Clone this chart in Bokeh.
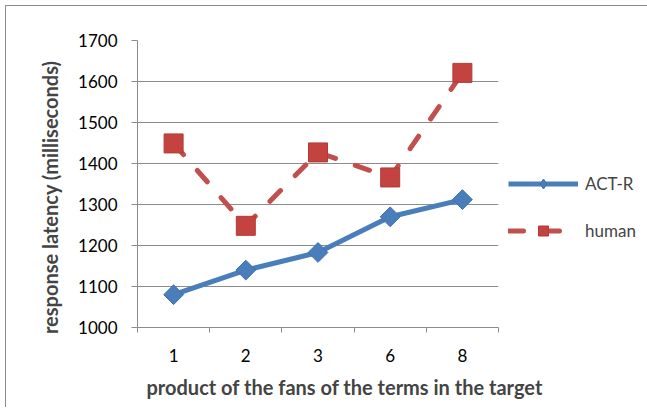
import numpy as np
from bokeh.plotting import figure
from bokeh.models import Range1d, FixedTicker, Legend, LegendItem, Title, ColumnDataSource
from bokeh.embed import file_html
from bokeh.resources import INLINE

categories = ["1", "2", "3", "6", "8"]
act_r = [1080, 1140, 1183, 1270, 1312]
human = [1449, 1248, 1427, 1366, 1621]
y_ticks = [1000, 1100, 1200, 1300, 1400, 1500, 1600, 1700]

FONT = "Lato"
xs = list(range(1, len(categories) + 1))
src = ColumnDataSource(dict(x=xs, act=act_r, hum=human))

p = figure(frame_width=361, frame_height=287, output_backend="svg", toolbar_location=None,
           x_range=Range1d(0.5, len(categories) + 0.5), y_range=Range1d(1000, 1700),
           min_border_left=137, min_border_right=141, min_border_top=40, min_border_bottom=77,
           styles={"box-shadow": "inset 5px 5px 0 0 white, inset 6px 6px 0 0 #8c8c8c"})
p.outline_line_color = None
p.background_fill_color = "white"
p.border_fill_alpha = 0

# axes
p.xaxis.ticker = FixedTicker(ticks=xs, minor_ticks=[i + 0.5 for i in range(len(categories) + 1)])
p.xaxis.major_label_overrides = {x: c for x, c in zip(xs, categories)}
p.xaxis.major_tick_out = 0
p.xaxis.major_tick_in = 0
p.xaxis.minor_tick_out = 5
p.xaxis.minor_tick_in = 0
p.xaxis.minor_tick_line_color = "#8c8c8c"
p.xaxis.major_label_standoff = 16
p.yaxis.ticker = FixedTicker(ticks=y_ticks)
p.yaxis.major_tick_out = 6
p.yaxis.major_tick_in = 0
p.yaxis.minor_tick_line_color = None
p.yaxis.major_label_standoff = 14
for ax in (p.xaxis, p.yaxis):
    ax.axis_line_color = "#8c8c8c"
    ax.major_tick_line_color = "#8c8c8c"
    ax.major_label_text_font = FONT
    ax.major_label_text_font_size = "17px"
    ax.major_label_text_color = "black"
p.xgrid.grid_line_color = None
p.ygrid.grid_line_color = "#8c8c8c"
p.ygrid.ticker = FixedTicker(ticks=y_ticks)

# series
l1 = p.line("x", "act", source=src, line_color="#4A7EBB", line_width=5)
d1 = p.scatter("x", "act", source=src, marker="diamond", size=17,
               fill_color="#4A7EBB", line_color="#3F70AD", line_width=1)
m1 = p.scatter("x", "act", source=src, marker="square", angle=np.pi / 4, size=14,
               fill_color="#4A7EBB", line_color="#3F70AD", line_width=1)
l2 = p.line("x", "hum", source=src, line_color="#C0504D", line_width=5,
            line_dash="15 21", line_cap="round")
m2 = p.scatter("x", "hum", source=src, marker="square", size=19,
               fill_color="#C4423F", line_color="#B03C39", line_width=1)

legend = Legend(items=[LegendItem(label="ACT-R", renderers=[l1, d1]),
                       LegendItem(label="human", renderers=[l2, m2])],
                location=(10, 84), glyph_width=70, glyph_height=25, spacing=22,
                label_standoff=7, padding=0, margin=0,
                border_line_color=None, background_fill_alpha=0,
                label_text_font=FONT, label_text_font_size="17px")
p.add_layout(legend, "right")

p.add_layout(Title(text="product of the fans of the terms in the target", align="left", offset=9,
                   standoff=17, text_font=FONT, text_font_size="20px", text_font_style="bold"),
             "below")
p.add_layout(Title(text="response latency (milliseconds)", align="right", offset=20,
                   standoff=28, text_font=FONT, text_font_size="20px", text_font_style="bold"),
             "left")

open("out.html", "w").write(file_html(p, INLINE))
